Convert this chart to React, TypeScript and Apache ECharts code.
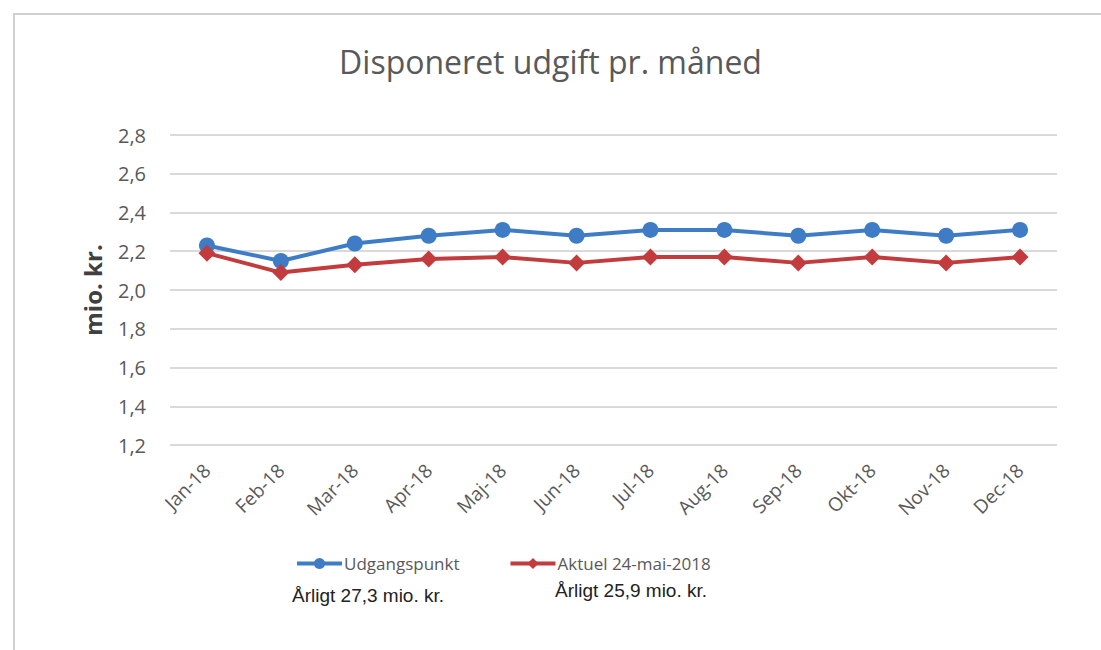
import React, { useEffect, useRef } from "react";
import * as echarts from "echarts";

const categories = ["Jan-18", "Feb-18", "Mar-18", "Apr-18", "Maj-18", "Jun-18", "Jul-18", "Aug-18", "Sep-18", "Okt-18", "Nov-18", "Dec-18"];
const udgangspunkt = [2.23, 2.15, 2.24, 2.28, 2.31, 2.28, 2.31, 2.31, 2.28, 2.31, 2.28, 2.31];
const aktuel = [2.19, 2.09, 2.13, 2.16, 2.17, 2.14, 2.17, 2.17, 2.14, 2.17, 2.14, 2.17];
const seriesNames = ["Udgangspunkt", "Aktuel 24-mai-2018"];
const annualNotes = ["Årligt 27,3 mio. kr.", "Årligt 25,9 mio. kr."];
const title = "Disponeret udgift pr. måned";
const yAxisName = "mio. kr.";

export default function App() {
  const ref = useRef<HTMLDivElement>(null);
  useEffect(() => {
    if (!ref.current) return;
    const chart = echarts.init(ref.current, null, { renderer: "svg" });
    const blue = "#3f7cc6";
    const red = "#c23b3d";
    chart.setOption({
      animation: false,
      backgroundColor: "#ffffff",
      title: {
        text: title,
        left: "center",
        top: 40,
        textStyle: { fontFamily: "Open Sans", fontWeight: "normal", fontSize: 32, color: "#595959" },
      },
      grid: { left: 170, right: 44, top: 135, bottom: 205, containLabel: false },
      legend: {
        left: 290,
        top: 550,
        itemWidth: 45,
        itemHeight: 14,
        itemGap: 49,
        lineStyle: { width: 4 },
        textStyle: { fontFamily: "Open Sans", fontSize: 17, color: "#595959", padding: [0, 0, 0, -3] },
        data: seriesNames,
      },
      xAxis: {
        type: "category",
        data: categories,
        boundaryGap: true,
        axisLine: { show: false },
        axisTick: { show: false },
        axisLabel: { rotate: 45, margin: 22, fontFamily: "Open Sans", fontSize: 19, color: "#595959" },
      },
      yAxis: {
        type: "value",
        min: 1.2,
        max: 2.8,
        interval: 0.2,
        name: yAxisName,
        nameLocation: "middle",
        nameGap: 66,
        nameTextStyle: { fontFamily: "Open Sans", fontWeight: "bold", fontSize: 24, color: "#404040" },
        axisLine: { show: false },
        axisTick: { show: false },
        axisLabel: {
          margin: 24,
          fontFamily: "Open Sans",
          fontSize: 20,
          color: "#595959",
          formatter: (v: number) => v.toFixed(1).replace(".", ","),
        },
        splitLine: { lineStyle: { color: "#d9d9d9", width: 2 } },
      },
      series: [
        {
          name: seriesNames[0],
          type: "line",
          data: udgangspunkt,
          symbol: "circle",
          symbolSize: 16,
          lineStyle: { color: blue, width: 4 },
          itemStyle: { color: blue },
        },
        {
          name: seriesNames[1],
          type: "line",
          data: aktuel,
          symbol: "diamond",
          symbolSize: 17,
          lineStyle: { color: red, width: 4 },
          itemStyle: { color: red },
        },
      ],
      graphic: [
        {
          type: "rect",
          shape: { x: 14, y: 14, width: 1200, height: 800 },
          style: { fill: "none", stroke: "#d0d0d0", lineWidth: 2 },
          silent: true,
        },
        {
          type: "text",
          left: 292,
          top: 586,
          style: { text: annualNotes[0], fontFamily: "Liberation Sans", fontSize: 19, fill: "#222222" },
        },
        {
          type: "text",
          left: 555,
          top: 581,
          style: { text: annualNotes[1], fontFamily: "Liberation Sans", fontSize: 19, fill: "#222222" },
        },
      ],
    });
    return () => chart.dispose();
  }, []);
  return <div ref={ref} style={{ position: "fixed", left: 0, top: 0, width: 1101, height: 650 }} />;
}
